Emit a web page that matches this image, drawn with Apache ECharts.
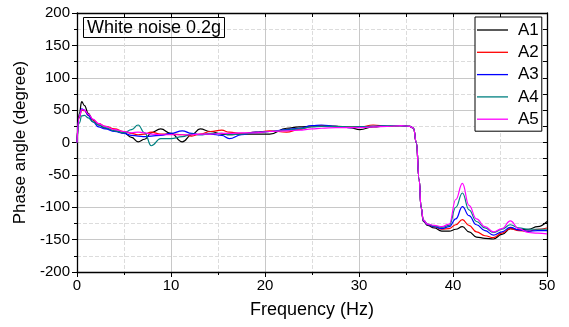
<!DOCTYPE html>
<html>
<head>
<meta charset="utf-8">
<script src="https://cdn.jsdelivr.net/npm/echarts@6/dist/echarts.min.js"></script>
<style>html,body{margin:0;padding:0;background:#fff;}#chart{width:569px;height:327px;}</style>
</head>
<body>
<div id="chart"></div>
<script>
const freq = [0, 0.25, 0.5, 0.8, 1.2, 1.7, 2.3, 3, 4, 5, 5.8, 6.5, 7.2, 7.9, 8.9, 10, 11.2, 12.2, 13.1, 14.2, 15.4, 16.2, 17.5, 19, 20.5, 22.3, 23.6, 25, 26, 27.5, 29, 30.1, 31.5, 33, 34.5, 35.4, 35.8, 36.1, 36.4, 36.6, 36.85, 37.3, 38, 38.8, 39.6, 40.3, 41, 41.7, 42.5, 43.4, 44.3, 45.2, 46.1, 47, 48, 49, 50];
const seriesNames = ['A1', 'A2', 'A3', 'A4', 'A5'];
const colors = ['#000000', '#ff0000', '#0000ff', '#008080', '#ff00ff'];
const A1 = [0, 45, 63, 57, 45, 35, 27, 22, 18, 15, 8, 1, 5, 15, 21, 14, 1, 12, 21, 17, 13, 12, 13, 13, 13, 22, 24, 25, 26, 25, 23, 20, 24, 26, 26, 25, 22, 0, -57, -100, -122, -128, -132, -137, -137, -134, -130, -138, -146, -148, -149, -142, -133, -135, -134, -130, -122];
const A2 = [0, 38, 50, 49, 42, 35, 29, 25, 21, 17, 14, 12, 13, 16, 13, 13, 12, 10, 13, 17, 19, 16, 14, 16, 18, 16, 20, 25, 26, 25, 24, 24, 27, 25, 26, 25, 22, 0, -57, -100, -121, -127, -130, -134, -133, -127, -119, -128, -138, -144, -147, -140, -133, -136, -137, -134, -132];
const A3 = [0, 40, 52, 50, 42, 32, 24, 21, 17, 14, 11, 10, 9, 10, 11, 14, 18, 14, 12, 13, 11, 6, 12, 16, 17, 20, 22, 26, 27, 25, 23, 24, 25, 26, 26, 25, 22, 0, -57, -100, -121, -127, -130, -133, -130, -118, -99, -113, -127, -136, -143, -138, -131, -135, -137, -136, -136];
const A4 = [0, 30, 41, 42, 38, 32, 27, 23, 18, 15, 20, 27, 15, -5, 6, 6, 9, 13, 12, 14, 14, 12, 13, 15, 17, 19, 21, 24, 25, 25, 24, 24, 25, 26, 26, 25, 22, 0, -57, -100, -120, -126, -129, -131, -128, -100, -78, -104, -122, -132, -139, -134, -127, -132, -134, -134, -134];
const A5 = [0, 40, 51, 50, 44, 36, 29, 25, 20, 17, 15, 16, 15, 13, 12, 12, 12, 12, 13, 13, 14, 14, 15, 15, 17, 18, 19, 21, 22, 23, 23, 23, 24, 25, 26, 25, 22, 0, -57, -100, -120, -126, -128, -130, -126, -88, -63, -97, -118, -130, -138, -133, -121, -133, -139, -140, -141];
const allValues = [A1, A2, A3, A4, A5];
const xTicks = [0, 10, 20, 30, 40, 50];
const yTicks = [-200, -150, -100, -50, 0, 50, 100, 150, 200];

const chart = echarts.init(document.getElementById('chart'), null, {renderer: 'canvas'});
const font = 'Liberation Sans, Arial, sans-serif';
const series = seriesNames.map((n, i) => ({
  name: n,
  type: 'line',
  data: freq.map((f, j) => [f, allValues[i][j]]),
  showSymbol: false,
  symbol: 'none',
  smooth: 0.45,
  smoothMonotone: 'x',
  lineStyle: {color: colors[i], width: 1.2},
  itemStyle: {color: colors[i]},
  z: 2 + i
}));

chart.setOption({
  animation: false,
  backgroundColor: '#ffffff',
  title: {
    text: 'White noise 0.2g',
    left: 83, top: 17,
    padding: [2, 4, 1, 4],
    borderColor: '#000', borderWidth: 1,
    textStyle: {fontFamily: font, fontSize: 18, fontWeight: 'normal', color: '#000'}
  },
  legend: {
    data: seriesNames.map(n => ({name: n, icon: 'rect'})),
    orient: 'vertical',
    left: 475, top: 17,
    padding: [3, 3, 2, 2],
    itemWidth: 31, itemHeight: 1.3, itemGap: 2.3,
    borderColor: '#000', borderWidth: 1,
    backgroundColor: '#fff',
    textStyle: {fontFamily: font, fontSize: 17, color: '#000', lineHeight: 20, padding: [0, 0, 0, 5]}
  },
  grid: {left: 77, right: 22, top: 13, bottom: 55, containLabel: false},
  xAxis: [{
    type: 'value', min: 0, max: 50, interval: 10,
    name: 'Frequency (Hz)', nameLocation: 'middle', nameGap: 29,
    nameTextStyle: {fontFamily: font, fontSize: 18, color: '#000'},
    axisLine: {show: true, onZero: false, lineStyle: {color: '#000', width: 1.3}},
    axisTick: {show: true, length: 5, inside: false, lineStyle: {color: '#000'}},
    minorTick: {show: true, splitNumber: 2, length: 3, lineStyle: {color: '#000'}},
    axisLabel: {fontFamily: font, fontSize: 15, color: '#000', margin: 6,
      formatter: v => xTicks.includes(v) ? String(v) : ''},
    splitLine: {show: true, lineStyle: {color: '#c8c8c8', width: 1}},
    minorSplitLine: {show: true, lineStyle: {color: '#dcdcdc', type: 'dashed', width: 1}}
  }, {
    type: 'value', min: 0, max: 50, interval: 5, position: 'top',
    axisLine: {show: true, onZero: false, lineStyle: {color: '#000', width: 1.3}},
    axisTick: {show: true, inside: true, length: 4, lineStyle: {color: '#000'}},
    axisLabel: {show: false}, splitLine: {show: false}
  }],
  yAxis: [{
    type: 'value', min: -200, max: 200, interval: 50,
    name: 'Phase angle (degree)', nameLocation: 'middle', nameGap: 47,
    nameTextStyle: {fontFamily: font, fontSize: 17, color: '#000'},
    axisLine: {show: true, onZero: false, lineStyle: {color: '#000', width: 1.3}},
    axisTick: {show: true, length: 5, inside: false, lineStyle: {color: '#000'}},
    minorTick: {show: true, splitNumber: 2, length: 3, lineStyle: {color: '#000'}},
    axisLabel: {fontFamily: font, fontSize: 15, color: '#000', margin: 7,
      formatter: v => yTicks.includes(v) ? String(v) : ''},
    splitLine: {show: true, lineStyle: {color: '#c8c8c8', width: 1}},
    minorSplitLine: {show: true, lineStyle: {color: '#dcdcdc', type: 'dashed', width: 1}}
  }, {
    type: 'value', min: -200, max: 200, interval: 25, position: 'right',
    axisLine: {show: true, onZero: false, lineStyle: {color: '#000', width: 1.3}},
    axisTick: {show: true, inside: true, length: 4, lineStyle: {color: '#000'}},
    axisLabel: {show: false}, splitLine: {show: false}
  }],
  series: series
});
</script>
</body>
</html>
